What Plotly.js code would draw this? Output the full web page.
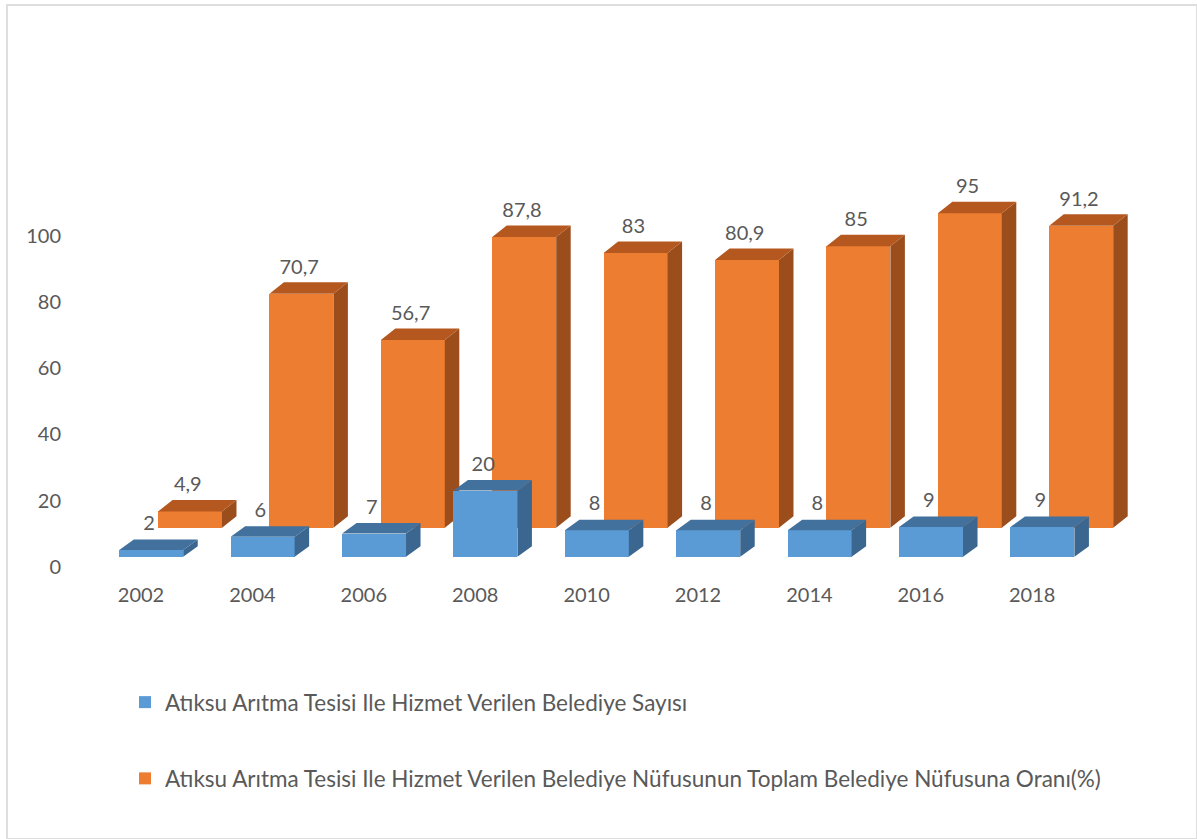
<!DOCTYPE html>
<html>
<head>
<meta charset="utf-8">
<script src="https://cdn.plot.ly/plotly-3.0.1.min.js"></script>
<style>
  html, body { margin: 0; padding: 0; background: #ffffff; }
  #wrap { position: relative; width: 1197px; height: 839px; }
  #chart { position: absolute; left: 0; top: 0; width: 1197px; height: 839px; }
  #frame { position: absolute; left: 6px; top: 4px; width: 1188px; height: 832px;
           border: 2px solid #dedede; pointer-events: none; }
</style>
</head>
<body>
<div id="wrap">
  <div id="chart"></div>
  <div id="frame"></div>
</div>
<script>
// ---- data ----
const years = ['2002', '2004', '2006', '2008', '2010', '2012', '2014', '2016', '2018'];
const belediyeSayisi = [2, 6, 7, 20, 8, 8, 8, 9, 9];
const nufusOrani = [4.9, 70.7, 56.7, 87.8, 83, 80.9, 85, 95, 91.2];
const yTicks = [0, 20, 40, 60, 80, 100];
const seriesNames = [
  'Atıksu Arıtma Tesisi Ile Hizmet Verilen Belediye Sayısı',
  'Atıksu Arıtma Tesisi Ile Hizmet Verilen Belediye Nüfusunun Toplam Belediye Nüfusuna Oranı(%)'
];

// ---- geometry / style ----
const W = 1197, H = 839;
const ml = 80, mr = 17, mt = 150, mb = 262;
const pxPerX = 111.4, pxPerY = 3.31;
const x0px = 141, y0px = 566.7;
const plotW = W - ml - mr, plotH = H - mt - mb;
const xRange = [(ml - x0px) / pxPerX, (ml - x0px) / pxPerX + plotW / pxPerX];
const yRange = [(y0px - (H - mb)) / pxPerY, (y0px - (H - mb)) / pxPerY + plotH / pxPerY];

const textColor = '#595959';
const fontFam = 'Lato, "Open Sans", sans-serif';

const blue = { front: '#5B9BD5', top: '#41719C', side: '#3A6690',
               shift: 0.092, width: 0.574, base: 3.02, dx: 14.5 / pxPerX, dy: 10.5 / pxPerY };
const orange = { front: '#ED7D31', top: '#B5581F', side: '#9B4D1C',
                 shift: 0.44, width: 0.574, base: 11.78, dx: 14.5 / pxPerX, dy: 11.5 / pxPerY };

const idx = years.map((_, i) => i);
const fmt = v => String(v).replace('.', ',');

function build3D(vals, st, xa, ya, name, rank) {
  const centers = idx.map(i => i + st.shift);
  const hw = st.width / 2;
  const topX = [], topY = [], sideX = [], sideY = [];
  vals.forEach((v, i) => {
    const c = centers[i], b = st.base, t = st.base + v;
    topX.push(c - hw, c - hw + st.dx, c + hw + st.dx, c + hw, c - hw, null);
    topY.push(t, t + st.dy, t + st.dy, t, t, null);
    sideX.push(c + hw, c + hw, c + hw + st.dx, c + hw + st.dx, c + hw, null);
    sideY.push(b, t, t + st.dy, b + st.dy, b, null);
  });
  return [
    { type: 'bar', x: centers, y: vals, base: vals.map(() => st.base), width: st.width,
      marker: { color: st.front, line: { width: 0 } }, name: name, legendrank: rank,
      legendgroup: name, xaxis: xa, yaxis: ya, hoverinfo: 'skip' },
    { type: 'scatter', mode: 'lines', x: sideX, y: sideY, fill: 'toself', fillcolor: st.side,
      line: { width: 0, color: st.side }, showlegend: false, xaxis: xa, yaxis: ya, hoverinfo: 'skip' },
    { type: 'scatter', mode: 'lines', x: topX, y: topY, fill: 'toself', fillcolor: st.top,
      line: { width: 0, color: st.top }, showlegend: false, xaxis: xa, yaxis: ya, hoverinfo: 'skip' },
    { type: 'scatter', mode: 'text', x: centers.map(c => c - 0.02),
      y: vals.map(v => st.base + v + 25 / pxPerY), text: vals.map(fmt),
      textposition: 'middle center', textfont: { family: fontFam, size: 20, color: textColor },
      cliponaxis: false, showlegend: false, xaxis: xa, yaxis: ya, hoverinfo: 'skip' }
  ];
}

const traces = [
  ...build3D(nufusOrani, orange, 'x', 'y', seriesNames[1], 2),
  ...build3D(belediyeSayisi, blue, 'x2', 'y2', seriesNames[0], 1)
];

const legendLeftPx = 125, legendTopPx = 681;
const layout = {
  width: W, height: H,
  margin: { l: ml, r: mr, t: mt, b: mb, pad: 0 },
  paper_bgcolor: '#ffffff', plot_bgcolor: 'rgba(0,0,0,0)',
  font: { family: fontFam, size: 20, color: textColor },
  showlegend: true,
  legend: {
    x: (legendLeftPx - ml) / plotW, xanchor: 'left',
    y: 1 - (legendTopPx - mt) / plotH, yanchor: 'top',
    traceorder: 'grouped', tracegroupgap: 44,
    font: { family: fontFam, size: 22.5, color: textColor },
    bgcolor: 'rgba(0,0,0,0)'
  },
  xaxis: { range: xRange, tickvals: idx, ticktext: years, showgrid: false, zeroline: false,
           showline: false, ticks: '', ticklabelstandoff: 4, fixedrange: true,
           tickfont: { family: fontFam, size: 20, color: textColor } },
  yaxis: { range: yRange, tickvals: yTicks, ticktext: yTicks.map(String), showgrid: false,
           zeroline: false, showline: false, ticks: '', ticklabelstandoff: 18, fixedrange: true,
           tickfont: { family: fontFam, size: 20, color: textColor } },
  xaxis2: { range: xRange, overlaying: 'x', anchor: 'y2', visible: false, fixedrange: true },
  yaxis2: { range: yRange, overlaying: 'y', anchor: 'x2', visible: false, fixedrange: true },
  bargap: 0
};

Plotly.newPlot('chart', traces, layout, { displayModeBar: false, staticPlot: true });
</script>
</body>
</html>
